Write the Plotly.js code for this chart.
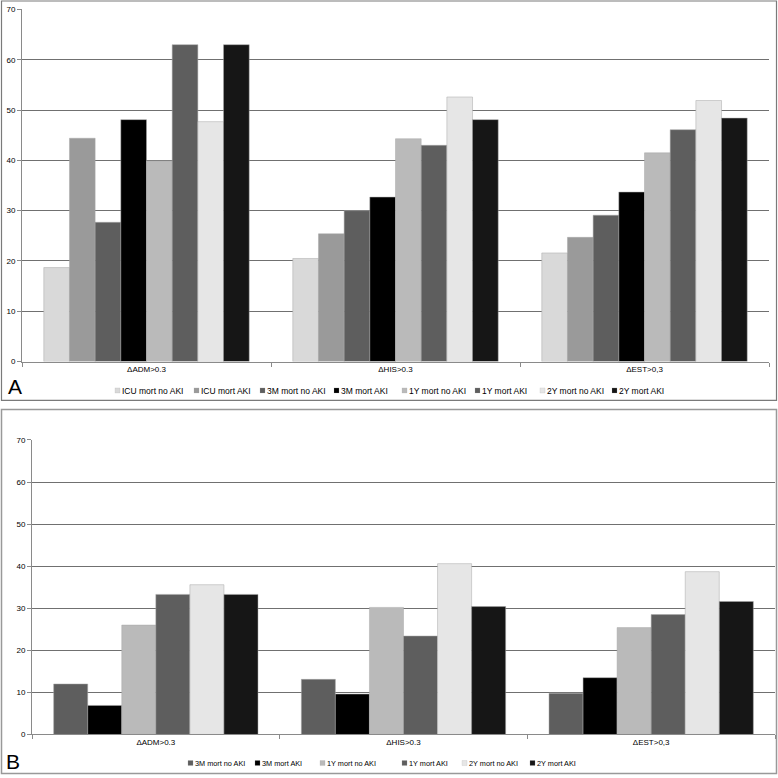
<!DOCTYPE html>
<html>
<head>
<meta charset="utf-8">
<script src="https://cdn.plot.ly/plotly-3.0.1.min.js"></script>
<style>
html, body { margin: 0; padding: 0; background: #fff; }
#chart { width: 778px; height: 778px; }
.legendpoints path { transform: translate(35.5px, 0px) scale(0.42); }
</style>
</head>
<body>
<div id="chart"></div>
<script>
// ---- data ----
var categories = ['ΔADM>0.3', 'ΔHIS>0.3', 'ΔEST>0,3'];

var seriesA = ['ICU mort no AKI', 'ICU mort AKI', '3M mort no AKI', '3M mort AKI',
               '1Y mort no AKI', '1Y mort AKI', '2Y mort no AKI', '2Y mort AKI'];
var icuNoAkiA = [18.7, 20.5, 21.6];
var icuAkiA   = [44.4, 25.4, 24.7];
var m3NoAkiA  = [27.7, 30.0, 29.1];
var m3AkiA    = [48.1, 32.7, 33.7];
var y1NoAkiA  = [39.9, 44.3, 41.5];
var y1AkiA    = [63.0, 43.0, 46.1];
var y2NoAkiA  = [47.7, 52.6, 51.9];
var y2AkiA    = [63.0, 48.1, 48.4];

var seriesB = ['3M mort no AKI', '3M mort AKI', '1Y mort no AKI', '1Y mort AKI',
               '2Y mort no AKI', '2Y mort AKI'];
var m3NoAkiB  = [12.0, 13.1, 9.8];
var m3AkiB    = [6.9, 9.6, 13.5];
var y1NoAkiB  = [26.0, 30.2, 25.4];
var y1AkiB    = [33.3, 23.4, 28.5];
var y2NoAkiB  = [35.6, 40.6, 38.7];
var y2AkiB    = [33.3, 30.4, 31.6];

var yTicks = [0, 10, 20, 30, 40, 50, 60, 70];

// ---- styles ----
var colorsA = ['#d9d9d9', '#9a9a9a', '#5e5e5e', '#000000', '#bababa', '#5e5e5e', '#e6e6e6', '#161616'];
var colorsB = ['#5e5e5e', '#000000', '#bababa', '#5e5e5e', '#e6e6e6', '#161616'];
var legendWidthsA = [34, 21, 29, 23, 28, 20, 27, 47];
var legendWidthsB = [22, 20, 37, 15, 23, 53];

var valuesA = [icuNoAkiA, icuAkiA, m3NoAkiA, m3AkiA, y1NoAkiA, y1AkiA, y2NoAkiA, y2AkiA];
var valuesB = [m3NoAkiB, m3AkiB, y1NoAkiB, y1AkiB, y2NoAkiB, y2AkiB];

var FONT = 'Liberation Sans, Arial, Helvetica, sans-serif';
var W = 778, H = 778;
function px(x) { return x / W; }
function py(y) { return 1 - y / H; }

var traces = [];
seriesA.forEach(function (name, i) {
  traces.push({
    type: 'bar', name: name, x: categories, y: valuesA[i],
    xaxis: 'x', yaxis: 'y', legend: 'legend',
    legendwidth: legendWidthsA[i],
    marker: { color: colorsA[i], line: { color: '#a8a8a8', width: 0.5 } },
    hoverinfo: 'name+y'
  });
});
seriesB.forEach(function (name, i) {
  traces.push({
    type: 'bar', name: name, x: categories, y: valuesB[i],
    xaxis: 'x2', yaxis: 'y2', legend: 'legend2',
    legendwidth: legendWidthsB[i],
    marker: { color: colorsB[i], line: { color: '#a8a8a8', width: 0.5 } },
    hoverinfo: 'name+y'
  });
});

function xAxis(domain, anchor) {
  return {
    domain: domain, anchor: anchor, type: 'category',
    showline: true, linecolor: '#8a8a8a', linewidth: 1,
    ticks: 'outside', tickson: 'boundaries', ticklen: 4, tickcolor: '#8a8a8a',
    tickfont: { family: FONT, size: 8, color: '#000' },
    showgrid: false, zeroline: false, fixedrange: true
  };
}
function yAxis(domain, anchor) {
  return {
    domain: domain, anchor: anchor, range: [0, 70],
    tickvals: yTicks, ticktext: yTicks.map(String),
    showgrid: true, gridcolor: '#707070', gridwidth: 1,
    showline: true, linecolor: '#8a8a8a', linewidth: 1,
    ticks: 'outside', ticklen: 4, tickcolor: '#8a8a8a',
    tickfont: { family: FONT, size: 8, color: '#000' },
    zeroline: false, fixedrange: true
  };
}

var layout = {
  width: W, height: H,
  margin: { l: 0, r: 0, t: 0, b: 0, pad: 0 },
  paper_bgcolor: '#ffffff', plot_bgcolor: '#ffffff',
  font: { family: FONT, size: 8, color: '#000' },
  barmode: 'group', bargap: 0.175, bargroupgap: 0,
  xaxis: xAxis([px(22), px(769)], 'y'),
  yaxis: yAxis([py(363), py(9.5)], 'x'),
  xaxis2: xAxis([px(32), px(775)], 'y2'),
  yaxis2: yAxis([py(737.3), py(441.7)], 'x2'),
  legend: {
    orientation: 'h', x: px(122 - 40), xanchor: 'left', y: py(392), yanchor: 'middle',
    font: { family: FONT, size: 8.5, color: '#000' }, bgcolor: 'rgba(0,0,0,0)',
    traceorder: 'normal', itemclick: false, itemdoubleclick: false
  },
  legend2: {
    orientation: 'h', x: px(195 - 40), xanchor: 'left', y: py(766), yanchor: 'middle',
    font: { family: FONT, size: 7.3, color: '#000' }, bgcolor: 'rgba(0,0,0,0)',
    traceorder: 'normal', itemclick: false, itemdoubleclick: false
  },
  shapes: [
    { type: 'rect', xref: 'paper', yref: 'paper', x0: px(1.5), x1: px(776.5), y0: py(402), y1: py(1),
      line: { color: '#7a7a7a', width: 1.2 }, fillcolor: 'rgba(0,0,0,0)', layer: 'below' },
    { type: 'rect', xref: 'paper', yref: 'paper', x0: px(1.5), x1: px(776.5), y0: py(776.5), y1: py(411),
      line: { color: '#999999', width: 1.5 }, fillcolor: 'rgba(0,0,0,0)', layer: 'below' }
  ],
  annotations: [
    { text: 'A', xref: 'paper', yref: 'paper', x: px(6), y: py(388), xanchor: 'left', yanchor: 'middle',
      showarrow: false, font: { family: FONT, size: 21, color: '#000' } },
    { text: 'B', xref: 'paper', yref: 'paper', x: px(4), y: py(764), xanchor: 'left', yanchor: 'middle',
      showarrow: false, font: { family: FONT, size: 21, color: '#000' } }
  ]
};

Plotly.newPlot('chart', traces, layout, { staticPlot: true, displayModeBar: false });
</script>
</body>
</html>
